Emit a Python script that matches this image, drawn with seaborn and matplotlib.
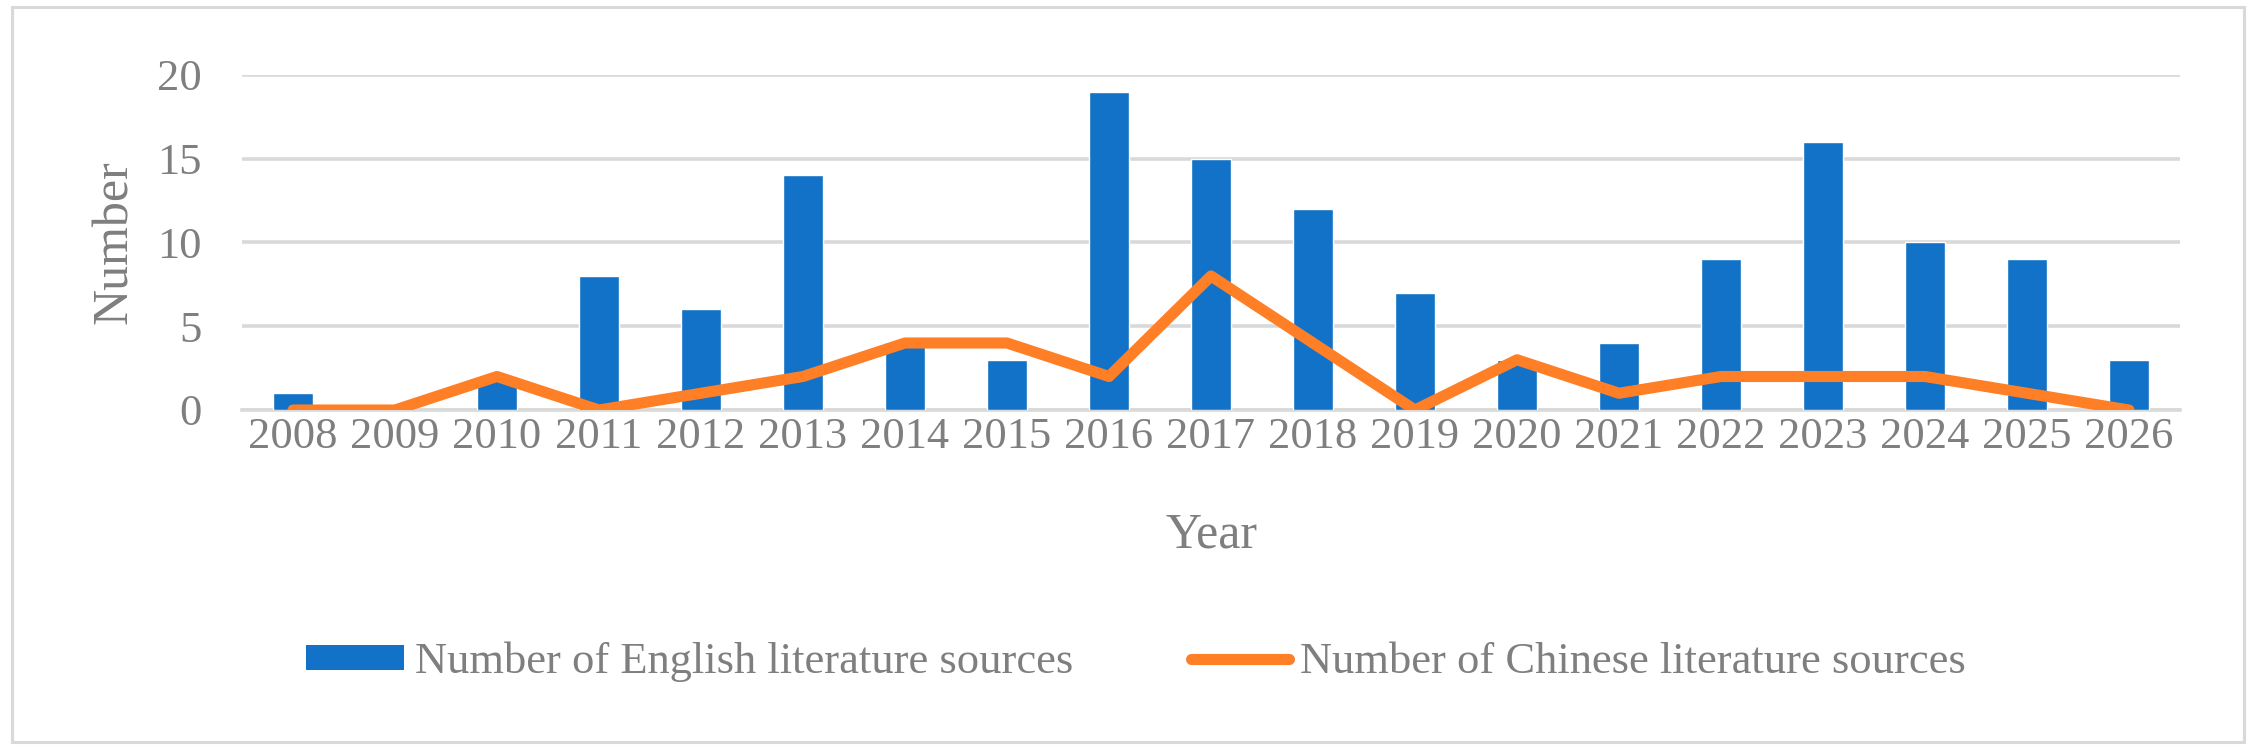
import numpy as np
import pandas as pd
import matplotlib
matplotlib.use("Agg")
import matplotlib.pyplot as plt
import seaborn as sns
from matplotlib.patches import Rectangle, Patch
from matplotlib.lines import Line2D

years = [str(y) for y in range(2008, 2027)]
english = [1, 0, 2, 8, 6, 14, 4, 3, 19, 15, 12, 7, 3, 4, 9, 16, 10, 9, 3]
chinese = [0, 0, 2, 0, 1, 2, 4, 4, 2, 8, 4, 0, 3, 1, 2, 2, 2, 1, 0]
yticks = [0, 5, 10, 15, 20]

label_en = "Number of English literature sources"
label_zh = "Number of Chinese literature sources"

BLUE = "#1172C7"
ORANGE = "#FF7F27"
GRID = "#D9D9D9"
TXT = "#7F7F7F"
LW = 8.0

sns.set_theme(style="white")
plt.rcParams["font.family"] = ["Liberation Serif", "DejaVu Serif"]

W, H = 2256, 753
fig = plt.figure(figsize=(W / 100, H / 100), dpi=100)
left, right, top, bottom = 242, 2180, 75, 410
ax = fig.add_axes([left / W, 1 - bottom / H, (right - left) / W, (bottom - top) / H])

df = pd.DataFrame({"Year": years, "English": english, "Chinese": chinese})

sns.barplot(data=df, x="Year", y="English", color=BLUE, width=0.4,
            saturation=1, ax=ax, zorder=3)
sns.pointplot(data=df, x="Year", y="Chinese", color=ORANGE, marker="",
              linewidth=LW, ax=ax, zorder=4)
for ln in ax.lines:
    ln.set_solid_capstyle("round")
    ln.set_solid_joinstyle("round")

ax.set_xlim(-0.5, len(years) - 0.5)
ax.set_ylim(0, 20)
ax.set_yticks(yticks)
ax.set_yticklabels([str(v) for v in yticks])
ax.yaxis.grid(True, color=GRID, linewidth=2.6, zorder=0)
ax.set_axisbelow(True)
for s in ["left", "right", "top"]:
    ax.spines[s].set_visible(False)
ax.spines["bottom"].set_color(GRID)
ax.spines["bottom"].set_linewidth(2.6)
ax.spines["bottom"].set_zorder(1)

ax.tick_params(axis="both", length=0, labelsize=32, labelcolor=TXT)
ax.tick_params(axis="y", pad=29)
ax.tick_params(axis="x", pad=5)

ax.set_xlabel("Year", fontsize=36, color=TXT)
ax.set_ylabel("Number", fontsize=36, color=TXT)
ax.xaxis.label.set_va("center")
ax.yaxis.label.set_va("center")
ax.xaxis.set_label_coords(0.5, (bottom - 535) / (bottom - top))
ax.yaxis.set_label_coords((115 - left) / (right - left), 0.5)

handles = [Patch(facecolor=BLUE, edgecolor="none", label=label_en),
           Line2D([0], [0], color=ORANGE, linewidth=LW, solid_capstyle="round",
                  label=label_zh)]
leg = fig.legend(handles=handles, loc="center", bbox_to_anchor=(0.5035, 1 - 662 / H),
                 ncol=2, frameon=False, fontsize=32, handlelength=2.2,
                 handleheight=0.5, handletextpad=0.25, columnspacing=2.66)
for t in leg.get_texts():
    t.set_color(TXT)

fig.patches.append(Rectangle((12 / W, 1 - 742 / H), (2244 - 12) / W, (742 - 7) / H,
                             transform=fig.transFigure, fill=False,
                             edgecolor=GRID, linewidth=2.2))

fig.savefig("out.png", dpi=100)
